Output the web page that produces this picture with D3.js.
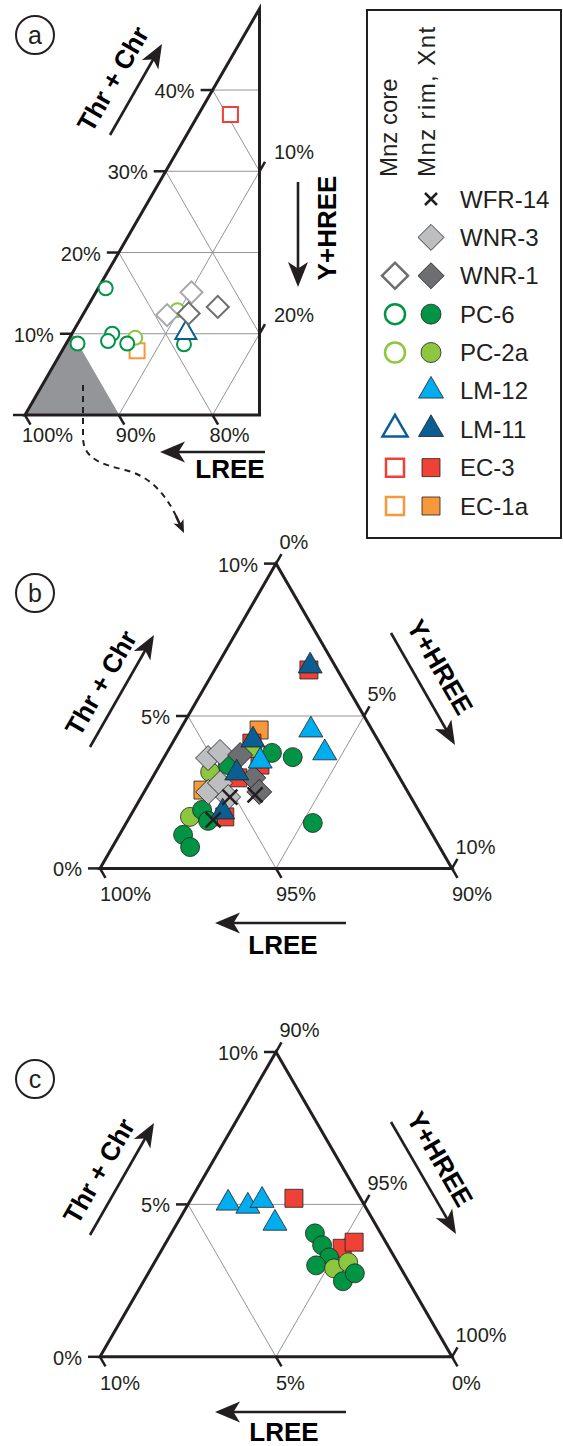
<!DOCTYPE html>
<html>
<head>
<meta charset="utf-8">
<title>Thr+Chr – Y+HREE – LREE ternary diagrams</title>
<script src="https://cdn.jsdelivr.net/npm/d3@7/dist/d3.min.js"></script>
<style>
  html, body { margin: 0; padding: 0; background: #fff; }
  svg { display: block; font-family: "Liberation Sans", Arial, Helvetica, sans-serif; }
</style>
</head>
<body>
<svg id="fig" width="563" height="1446" viewBox="0 0 563 1446"></svg>
<script>
// ---------------------------------------------------------------- data
// Samples in legend order
const samples = ["WFR-14", "WNR-3", "WNR-1", "PC-6", "PC-2a", "LM-12", "LM-11", "EC-3", "EC-1a"];
// Samples with monazite core analyses (open symbols)
const coreSamples = ["WNR-1", "PC-6", "PC-2a", "LM-11", "EC-3", "EC-1a"];

// (a) Monazite cores: [sample, Thr+Chr %, Y+HREE %]  (LREE = remainder)
const coreA = [
  ["EC-1a", 7.9, 8.0],
  ["EC-3", 37.0, 3.4],
  ["PC-2a", 9.5, 7.0], ["PC-2a", 12.9, 9.8],
  ["PC-6", 15.6, 0.8], ["PC-6", 8.8, 1.2], ["PC-6", 10.0, 4.3],
  ["PC-6", 9.1, 4.3], ["PC-6", 8.8, 6.5], ["PC-6", 8.7, 12.6],
  ["LM-11", 10.1, 12.1],
  ["WNR-3", 15.1, 10.2], ["WNR-3", 12.3, 9.0],
  ["WNR-1", 12.5, 11.2], ["WNR-1", 13.3, 13.9]
];

// (b) Monazite rims: [sample, Thr+Chr %, Y+HREE %]
const rimB = [
  ["EC-1a", 4.54, 2.25], ["EC-1a", 2.57, 1.64],
  ["EC-3", 6.51, 2.68], ["EC-3", 4.11, 2.26], ["EC-3", 3.39, 2.85],
  ["EC-3", 2.97, 2.43], ["EC-3", 1.69, 2.70],
  ["PC-2a", 3.95, 2.34], ["PC-2a", 3.16, 1.55], ["PC-2a", 1.69, 1.71],
  ["PC-6", 3.79, 2.99], ["PC-6", 3.65, 3.65], ["PC-6", 3.39, 1.94],
  ["PC-6", 1.49, 5.30], ["PC-6", 1.92, 1.94], ["PC-6", 1.56, 2.29],
  ["PC-6", 1.10, 1.81], ["PC-6", 0.70, 2.21],
  ["WNR-3", 3.62, 1.26], ["WNR-3", 3.82, 1.50], ["WNR-3", 2.51, 1.82],
  ["WNR-3", 2.80, 2.01], ["WNR-3", 2.34, 2.47],
  ["WNR-1", 3.72, 2.12], ["WNR-1", 2.97, 2.87], ["WNR-1", 2.51, 3.27],
  ["LM-12", 4.54, 3.72], ["LM-12", 3.79, 4.49], ["LM-12", 3.52, 2.79],
  ["LM-11", 6.64, 2.65], ["LM-11", 4.21, 2.24], ["LM-11", 3.13, 2.32], ["LM-11", 1.85, 2.56],
  ["WFR-14", 2.34, 2.52], ["WFR-14", 2.41, 3.20], ["WFR-14", 1.59, 2.42]
];

// (c) Xenotime: [sample, Thr+Chr %, LREE %]  (Y+HREE = remainder)
const xntC = [
  ["EC-3", 5.20, 1.89], ["EC-3", 3.56, 1.34], ["EC-3", 3.76, 0.90],
  ["PC-6", 4.05, 1.87], ["PC-6", 3.66, 1.86], ["PC-6", 3.26, 1.86],
  ["PC-6", 3.00, 2.36],
  ["PC-2a", 2.90, 1.90], ["PC-2a", 3.10, 1.40],
  ["PC-6", 2.48, 1.86], ["PC-6", 2.74, 1.39],
  ["LM-12", 5.04, 3.84], ["LM-12", 4.94, 3.33], ["LM-12", 5.13, 2.83], ["LM-12", 4.38, 2.84]
];

// Axis tick values (%)
const thrTicksA = [10, 20, 30, 40];
const lreeTicksA = [100, 90, 80];
const yhreeTicksA = [10, 20];
const thrTicksB = [0, 5, 10];
const lreeTicksB = [100, 95, 90];
const yhreeTicksB = [0, 5, 10];
const thrTicksC = [0, 5, 10];
const lreeTicksC = [10, 5, 0];
const yhreeTicksC = [90, 95, 100];

// ---------------------------------------------------------------- styles
const INK = "#231f20", GRID = "#939598";
const sampleStyle = {
  "WFR-14": { shape: "cross",    fill: INK,       edge: INK },
  "WNR-3":  { shape: "diamond",  fill: "#bcbec0", edge: "#a7a9ac" },
  "WNR-1":  { shape: "diamond",  fill: "#6d6e71", edge: "#6d6e71" },
  "PC-6":   { shape: "circle",   fill: "#009444", edge: "#009444" },
  "PC-2a":  { shape: "circle",   fill: "#8dc63f", edge: "#8dc63f" },
  "LM-12":  { shape: "triangle", fill: "#00aeef", edge: "#00aeef" },
  "LM-11":  { shape: "triangle", fill: "#0b5e91", edge: "#0b5e91" },
  "EC-3":   { shape: "square",   fill: "#ef4136", edge: "#ef4136" },
  "EC-1a":  { shape: "square",   fill: "#f7993a", edge: "#f7993a" }
};
const sizeA = { circle: 7, square: 15, diamond: 11, triangle: 21, cross: 7 };
const sizeBC = { circle: 9.5, square: 18, diamond: 12.5, triangle: 24, cross: 7.5 };
const sizeLegend = { circle: 10, square: 18, diamond: 13, triangle: 25, cross: 6 };

const svg = d3.select("#fig");
const fmt = v => v + "%";

function markPath(shape, s) {
  switch (shape) {
    case "circle":   return d3.symbol(d3.symbolCircle, Math.PI * s * s)();
    case "square":   return d3.symbol(d3.symbolSquare, s * s)();
    case "diamond":  return d3.symbol(d3.symbolSquare, 2 * s * s)();
    case "triangle": return d3.symbol(d3.symbolTriangle, Math.sqrt(3) / 4 * s * s)();
    case "cross":    return `M${-s},${-s}L${s},${s}M${-s},${s}L${s},${-s}`;
  }
}

function drawMark(g, sample, x, y, sizes, open, openWidth) {
  const st = sampleStyle[sample];
  const p = g.append("path")
    .attr("d", markPath(st.shape, sizes[st.shape]))
    .attr("transform", `translate(${x},${y})` + (st.shape === "diamond" ? " rotate(45)" : ""));
  if (st.shape === "cross") {
    p.attr("fill", "none").attr("stroke", INK).attr("stroke-width", 2.5);
  } else if (open) {
    p.attr("fill", "#fff").attr("stroke", st.edge).attr("stroke-width", openWidth || 2);
  } else {
    p.attr("fill", st.fill).attr("stroke", INK).attr("stroke-width", 0.8);
  }
}

function arrow(g, x1, y1, x2, y2, L, W) {
  const ang = Math.atan2(y2 - y1, x2 - x1) * 180 / Math.PI;
  const len = Math.hypot(x2 - x1, y2 - y1);
  const a = g.append("g").attr("transform", `translate(${x1},${y1}) rotate(${ang})`);
  a.append("line").attr("x1", 0).attr("y1", 0).attr("x2", len - L * 0.6).attr("y2", 0)
    .attr("stroke", INK).attr("stroke-width", 2.6);
  a.append("path")
    .attr("d", `M${len},0L${len - L},${-W / 2}L${len - L * 0.74},0L${len - L},${W / 2}Z`)
    .attr("fill", INK);
}

function boldLabel(g, text, x, y, rot) {
  g.append("text").attr("transform", `translate(${x},${y}) rotate(${rot})`)
    .attr("text-anchor", "middle").attr("dominant-baseline", "central")
    .attr("font-size", 26).attr("font-weight", "bold").attr("fill", "#000").text(text);
}

function panelTag(g, letter, x, y) {
  g.append("circle").attr("cx", x).attr("cy", y).attr("r", 19)
    .attr("fill", "none").attr("stroke", INK).attr("stroke-width", 2);
  g.append("text").attr("x", x).attr("y", y).attr("text-anchor", "middle")
    .attr("dominant-baseline", "central").attr("font-size", 25).attr("fill", INK).text(letter);
}

function tickLabel(g, text, x, y, anchor, central) {
  const t = g.append("text").attr("x", x).attr("y", y).attr("text-anchor", anchor)
    .attr("font-size", 20).attr("fill", INK).text(text);
  if (central) t.attr("dominant-baseline", "central");
}

const c60 = 0.5, s60 = Math.sqrt(3) / 2;

// Generic ternary panel: t = Thr+Chr, h = offset along the right-hand (Y+HREE) direction
function drawPanel(cfg) {
  const g = svg.append("g");
  const P = (t, h) => [cfg.x(h + t / 2), cfg.y(t)];
  const line = d3.line();

  // shaded field (panel a)
  if (cfg.shade) {
    g.append("path").attr("d", line(cfg.shade.map(d => P(d[0], d[1]))) + "Z").attr("fill", GRID);
  }
  // grid
  cfg.grid.forEach(seg => {
    g.append("path").attr("d", line(seg.map(d => P(d[0], d[1]))))
      .attr("fill", "none").attr("stroke", GRID).attr("stroke-width", 1);
  });
  // outline
  g.append("path").attr("d", line(cfg.outline.map(d => P(d[0], d[1]))) + "Z")
    .attr("fill", "none").attr("stroke", INK).attr("stroke-width", 3).attr("stroke-linejoin", "miter");

  const tickStroke = sel => sel.attr("stroke", INK).attr("stroke-width", 2.5).attr("fill", "none");
  // left ticks (Thr+Chr)
  cfg.leftTicks.forEach(([t, label]) => {
    const [x, y] = P(t, 0);
    tickStroke(g.append("line").attr("x1", x - 12).attr("y1", y).attr("x2", x).attr("y2", y));
    if (label) tickLabel(g, label, x - 18, y + 1, "end", true);
  });
  // bottom ticks (LREE)
  cfg.bottomTicks.forEach(([h, label]) => {
    const [x, y] = P(0, h);
    tickStroke(g.append("line").attr("x1", x).attr("y1", y).attr("x2", x + 11 * c60).attr("y2", y + 11 * s60));
    tickLabel(g, label, x + cfg.bdx, y + cfg.bdy, "start", false);
  });
  // right ticks (Y+HREE)
  cfg.rightTicks.forEach(([t, h, label]) => {
    const [x, y] = P(t, h);
    const ex = x + 11 * c60, ey = y - 11 * s60;
    tickStroke(g.append("line").attr("x1", x).attr("y1", y).attr("x2", ex).attr("y2", ey));
    tickLabel(g, label, ex + cfg.rdx, ey + cfg.rdy, "start", false);
  });

  // marks
  cfg.points.forEach(([sample, t, h]) => {
    const [x, y] = P(t, h);
    drawMark(g, sample, x, y, cfg.sizes, cfg.open);
  });
  return g;
}

// ---------------------------------------------------------------- panel (a)
const xA = d3.scaleLinear().domain([0, 25]).range([25, 259.5]);
const yA = d3.scaleLinear().domain([0, 50]).range([415, 8.8]);
const gA = drawPanel({
  x: xA, y: yA,
  shade: [[0, 0], [0, 10], [10, 0]],
  outline: [[0, 0], [0, 25], [50, 0]],
  grid: [
    ...[10, 20, 30, 40].map(t => [[t, 0], [t, 25 - t / 2]]),
    ...[10, 20, 30, 40].map(s => s <= 25 ? [[s, 0], [0, s]] : [[s, 0], [2 * (s - 25), 50 - s]]),
    ...[10, 20].map(h => [[0, h], [2 * (25 - h), h]])
  ],
  leftTicks: [[0, null], ...thrTicksA.map(v => [v, fmt(v)])],
  bottomTicks: lreeTicksA.map(v => [100 - v, fmt(v)]),
  rightTicks: yhreeTicksA.map(v => [2 * (25 - v), v, fmt(v)]),
  bdx: -3, bdy: 27, rdx: 9, rdy: -2.5,
  points: coreA, sizes: sizeA, open: true
});
panelTag(gA, "a", 35, 35);
arrow(gA, 110, 135, 162, 44, 24, 19);
boldLabel(gA, "Thr + Chr", 113, 79, -60);
arrow(gA, 298, 182, 298, 287, 25, 20);
boldLabel(gA, "Y+HREE", 327, 228, -90);
arrow(gA, 265, 452, 160, 452, 25, 21);
boldLabel(gA, "LREE", 230, 469, 0);

// dashed connector from the shaded field to panel (b)
gA.append("path")
  .attr("d", "M83,385 L83,437 C83,458 100,464 125,470 C150,476 166,494 178,520")
  .attr("fill", "none").attr("stroke", INK).attr("stroke-width", 2).attr("stroke-dasharray", "6,5");
arrow(gA, 176, 516, 184, 533, 13, 11);

// ---------------------------------------------------------------- panel (b)
const xB = d3.scaleLinear().domain([0, 10]).range([100, 452]);
const yB = d3.scaleLinear().domain([0, 10]).range([868.4, 563.6]);
const medial = [[[5, 0], [5, 5]], [[5, 0], [0, 5]], [[0, 5], [5, 5]]];
const gB = drawPanel({
  x: xB, y: yB,
  outline: [[0, 0], [0, 10], [10, 0]],
  grid: medial,
  leftTicks: thrTicksB.map(v => [v, fmt(v)]),
  bottomTicks: lreeTicksB.map(v => [100 - v, fmt(v)]),
  rightTicks: yhreeTicksB.map(v => [10 - v, v, fmt(v)]),
  bdx: 0, bdy: 33, rdx: -2, rdy: -5,
  points: rimB, sizes: sizeBC, open: false
});
panelTag(gB, "b", 35, 593);
arrow(gB, 90, 747, 154, 635, 24, 19);
boldLabel(gB, "Thr + Chr", 101, 683, -60);
arrow(gB, 391, 633, 455, 745, 24, 19);
boldLabel(gB, "Y+HREE", 440, 667, 60);
arrow(gB, 346, 923, 215, 923, 25, 21);
boldLabel(gB, "LREE", 283, 945, 0);

// ---------------------------------------------------------------- panel (c)
const xC = d3.scaleLinear().domain([0, 10]).range([100, 452]);
const yC = d3.scaleLinear().domain([0, 10]).range([1356.8, 1052]);
const gC = drawPanel({
  x: xC, y: yC,
  outline: [[0, 0], [0, 10], [10, 0]],
  grid: medial,
  leftTicks: thrTicksC.map(v => [v, fmt(v)]),
  bottomTicks: lreeTicksC.map(v => [10 - v, fmt(v)]),
  rightTicks: yhreeTicksC.map(v => [10 - (v - 90), v - 90, fmt(v)]),
  bdx: 0, bdy: 33, rdx: -2, rdy: -5,
  points: xntC.map(([s, t, l]) => [s, t, 10 - l - t]),
  sizes: sizeBC, open: false
});
panelTag(gC, "c", 35, 1079);
arrow(gC, 90, 1235, 154, 1123, 24, 19);
boldLabel(gC, "Thr + Chr", 99, 1171, -60);
arrow(gC, 391, 1122, 456, 1234, 24, 19);
boldLabel(gC, "Y+HREE", 440, 1159, 60);
arrow(gC, 346, 1412, 215, 1412, 25, 21);
boldLabel(gC, "LREE", 284, 1432, 0);

// ---------------------------------------------------------------- legend
const gL = svg.append("g");
gL.append("rect").attr("x", 367).attr("y", 10).attr("width", 194).attr("height", 528)
  .attr("fill", "#fff").attr("stroke", INK).attr("stroke-width", 2);
gL.append("text").attr("transform", "translate(397,177) rotate(-90)")
  .attr("font-size", 24).attr("fill", INK).text("Mnz core");
gL.append("text").attr("transform", "translate(435,177) rotate(-90)")
  .attr("font-size", 24).attr("letter-spacing", 1.4).attr("fill", INK).text("Mnz rim, Xnt");
const rowY = d3.scalePoint().domain(samples).range([199, 506]);
samples.forEach(s => {
  const y = rowY(s);
  if (coreSamples.includes(s)) drawMark(gL, s, 395, y, sizeLegend, true, 2.5);
  drawMark(gL, s, 431, y, sizeLegend, false);
  gL.append("text").attr("x", 460).attr("y", y).attr("dominant-baseline", "central")
    .attr("font-size", 24).attr("fill", INK).text(s);
});
</script>
</body>
</html>
